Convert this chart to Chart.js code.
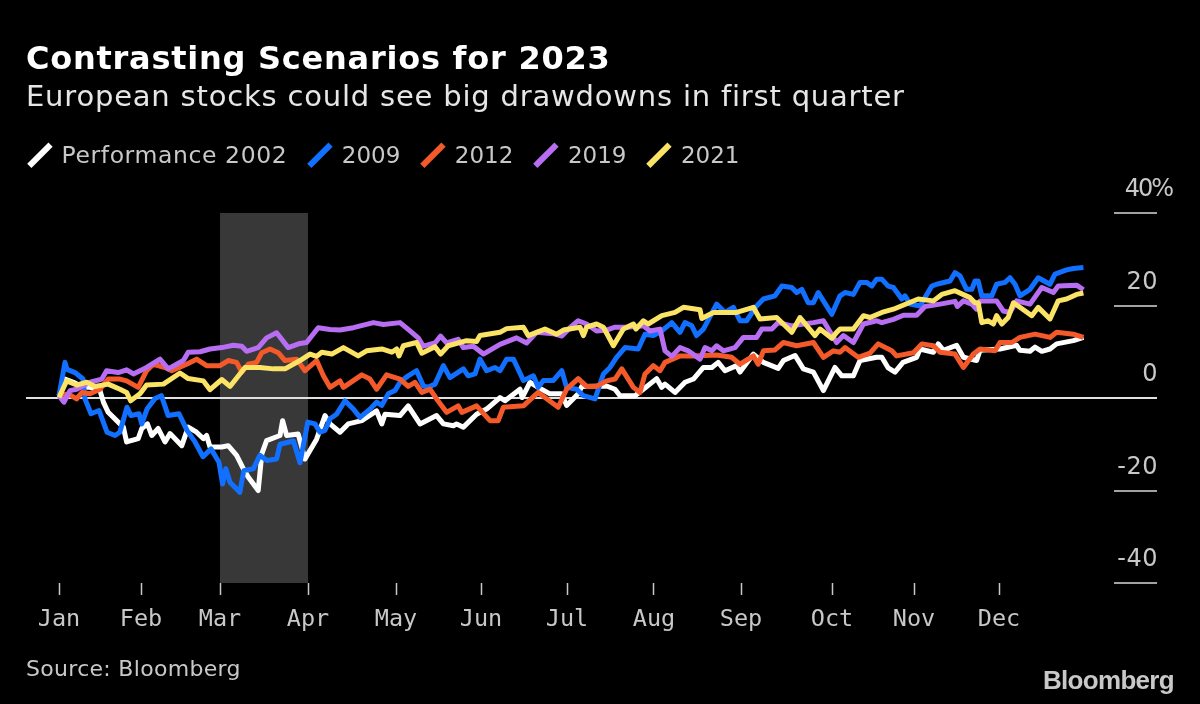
<!DOCTYPE html>
<html>
<head>
<meta charset="utf-8">
<script src="https://cdn.jsdelivr.net/npm/chart.js@4/dist/chart.umd.min.js"></script>
<style>
  html, body { margin: 0; background: #000; }
  #wrap { position: relative; width: 1200px; height: 704px; overflow: hidden; font-family: "DejaVu Sans"; }
  #chart { position: absolute; left: 0; top: 0; }
  .txt { position: absolute; white-space: nowrap; }
  #title { left: 26px; top: 39px; font-size: 32px; font-weight: bold; color: #fff; letter-spacing: 0.75px; }
  #subtitle { left: 26px; top: 79px; font-size: 29px; color: #e6e6e6; letter-spacing: 0.8px; }
  #legend { left: 26px; top: 140px; height: 30px; font-size: 23px; color: #c8c8c8; display: flex; }
  #legend .item { display: flex; align-items: center; margin-right: 19px; }
  #legend .item:first-child span { font-size: 23.5px; letter-spacing: 0.6px; }
  #legend i { display: block; width: 5.5px; height: 30px; margin: 0 19px 0 11px; transform: rotate(45deg); }
  #source { left: 26px; top: 656px; font-size: 22px; color: #c8c8c8; letter-spacing: 0.3px; }
  #logo { left: 1043px; top: 665px; font-family: "Liberation Sans"; font-size: 26px; font-weight: bold; color: #c8c8c8; letter-spacing: -0.7px; }
</style>
</head>
<body>
<div id="wrap">
  <canvas id="chart" width="1200" height="704"></canvas>
  <div class="txt" id="title">Contrasting Scenarios for 2023</div>
  <div class="txt" id="subtitle">European stocks could see big drawdowns in first quarter</div>
  <div class="txt" id="legend"></div>
  <div class="txt" id="source">Source: Bloomberg</div>
  <div class="txt" id="logo">Bloomberg</div>
</div>
<script>
// x is trading days since the start of the year
const monthLabels = ["Jan", "Feb", "Mar", "Apr", "May", "Jun", "Jul", "Aug", "Sep", "Oct", "Nov", "Dec"];
const monthDays = [0, 20.5, 40.25, 62.25, 84.25, 105.5, 127, 148.75, 170.5, 193.25, 213.75, 235];
const highlightDays = [40.25, 62.25];
const yTicks = [-40, -20, 0, 20, 40];
const yLabels = ["-40", "-20", "0", "20", "40%"];

const days2002 = [0,1.5,3.6,6.1,7.75,10.25,11.1,12.3,15.25,16.1,16.9,19.8,20.7,22.1,23.2,24.8,26.5,27.75,30.7,32.3,34.4,36.1,36.9,37.75,40.7,42.3,44.4,46.1,47.3,49.8,50.7,51.9,55.25,55.9,56.9,59.8,61.5,64.4,66.5,67.75,70.25,72.3,75.7,79.4,80.7,81.5,85.25,87.3,90.25,94.4,96.1,98.6,99.4,101.1,104.4,106.9,110.25,111.5,115.25,115.8,117.75,119.8,122.75,125.7,126.9,129.8,130.7,136.9,139,140.25,144,146.1,149.4,150.7,151.5,154,156.5,158.6,161.1,163.2,164.8,166.5,169.4,170.25,173.6,176.1,179.8,181.1,184,186.1,188.6,191.1,194,195.7,198.6,200.25,204.4,205.7,207.3,209,211,214.4,215.25,218.6,219.8,221.1,224.4,226.1,229.4,230.25,235.25,239.4,240.25,242.75,244,245.7,247.75,249.4,253.6,256.1];
const values2002 = [0.5,4.1,3.4,2.3,2.3,1.6,-0.9,-3.1,-5.6,-6.3,-9.5,-8.8,-6.6,-5.6,-8.1,-6.6,-9.5,-7.7,-10.3,-6.3,-7.4,-8.8,-8.1,-10.6,-10.6,-10.3,-12.4,-15.3,-17.1,-20,-12.1,-9.2,-8.1,-4.9,-8.1,-7.8,-13.2,-8.9,-3.8,-5.6,-7.4,-5.6,-4.9,-2.8,-5.6,-3.5,-3.8,-1.7,-5.6,-3.8,-5.6,-6,-5.6,-6.3,-3.5,-2.4,0.1,-0.6,1.9,0.1,3.4,2.3,0.9,0.9,-1.6,0.9,2.5,2.6,1.9,0.5,0.5,1.9,4.2,2.3,3,1.2,3.4,4.1,6.6,6.6,7.7,5.9,7,5.6,9.5,7.7,6.4,8.1,9.2,6.3,5.6,1.6,6.6,4.8,4.8,8.1,8.8,8.8,6.5,5.6,7.7,8.8,10.6,9.9,11.7,10.3,11.4,8.8,8.1,10.3,10.6,11.4,10.3,10.1,11,10.1,10.6,11.7,12.4,13.1];

const days2009 = [0,1.5,2,4,6,6.5,8,10,12,14,15.2,17,18,20,20.7,22,24,25.6,27.3,30,32,34,36,38,40,40.9,41.7,42.75,45.2,46.2,48.6,50.2,52,54.4,55.25,58.6,60.25,62.2,64,65.25,66.5,67.75,69.4,71.5,73.6,75.25,77.75,79.4,80.7,82.3,84,85.25,87.3,89.4,91.1,92.3,94,96.1,97.75,101.1,102.3,104,105.25,106.9,109,110.25,111.9,113.6,116.1,118.6,119.8,121.1,123.6,125.7,126.9,129.4,131.1,134,136.1,137.75,139.4,141.5,144.8,146.5,148.6,150.7,153.2,155.25,156.5,158.2,159.4,161.1,164.4,166.5,168.6,170.25,171.9,174.4,176.1,179,180.7,183.2,184.4,185.7,187.3,188.6,189.8,191.1,193.2,195.25,196.5,198.6,200.25,201.9,203.2,204.4,205.7,207.3,208.6,210.7,211.5,212.75,215.25,218.2,219.4,222.75,224,225.25,226.9,228.2,229,229.8,230.7,233.2,234.4,236.5,237.75,239,240.25,242.75,244.8,247.75,249,251.9,253.6,256.1];
const values2009 = [0.5,7.7,6.2,5.5,4.1,-0.2,-3.4,-2.7,-7.4,-8.1,-7.4,-2,-3.8,-3.4,-5.6,-2.4,-0.1,0.5,-3.8,-3.4,-7,-9.5,-12.7,-11,-13.9,-18.6,-15.3,-18.2,-20.4,-15.7,-15.3,-12.4,-13.5,-13.2,-10,-9.3,-14,-5.2,-5.6,-7.4,-7,-4.5,-3.5,-0.6,-2.4,-4.2,-2.4,-0.9,-1.6,0.9,1.6,3.4,4.8,5.9,2.6,2.3,3,7,4.4,6.3,4.8,5.2,8.4,5.9,6.6,5.9,8.4,8.4,3.8,4.8,2.3,3.8,3.8,5.9,2.3,1.9,0.5,-0.2,5.2,6.6,8.8,10.9,10.6,13.8,13.5,14.5,16.3,14.2,16.3,15.6,13.5,14.9,20.3,18.5,19.6,16.7,16.7,19.9,21.4,22.1,24.2,23.9,22.8,23.5,20.6,20.6,22.8,21,18.1,22.1,22.8,22.4,25,25,24.2,25.7,25.7,24.2,23.9,21.4,22.1,20.3,19.9,24.2,24.6,25.3,27.1,26.4,23.5,23.5,25.3,25.3,22.1,22.1,24.6,25,26,24.6,22.1,23.5,26,24.6,26.8,27.7,28,28.2];

const days2012 = [0,2.3,4.4,5.7,7.75,10.25,12.3,15.25,16.9,19.8,21.9,23.6,26.5,28.2,31.9,34.4,36.9,40.25,42.3,44.4,45.7,47.3,49.4,50.7,52.75,54.8,56.5,59.4,61.5,64.4,66.1,67.75,70.25,71.1,75.7,77.75,79.4,81.9,85.25,87.3,89,90.7,92.75,94.4,96.9,99.8,100.7,104.4,107.75,109.8,111.1,116.1,119.8,124.8,126.9,129.8,131.9,134.4,136.9,139,140.7,143.6,145.25,146.5,148.6,150.25,151.5,155.25,158.6,164.4,168.2,170.25,173.6,174.8,176.1,179,181.1,184.4,188.6,191.1,193.6,195.25,196.5,199.8,202.75,204.8,208.2,209.4,213.6,215.7,218.6,220.25,224,226.1,228.6,230.25,234,235.25,238.2,240.25,244,247.75,249.4,253.6,256.1];
const values2012 = [0.5,0.9,-0.2,1.2,0.9,1.9,4.1,4.1,3.7,2.3,5.9,7.3,6.6,5.9,7.3,8.4,7,7,8.1,7.7,5.6,7.3,7.7,9.8,10.6,9.8,8.1,8.4,5.9,8.1,4.8,2.3,3.7,2.3,5,4.1,1.9,5,4.1,2.5,3.4,1.2,1.9,-0.2,-3.1,-1.7,-3.1,-1.7,-4.9,-4.9,-2,-1.7,1.2,-2,1.9,4.2,2.5,2.5,3.7,4.1,6.3,2.3,1.2,5.2,7,5.9,7.7,9.1,9.1,9.3,8.8,7.3,9.1,7.3,10.2,10.4,12,11.3,12,8.8,10.2,9.9,10.9,8.8,9.7,11.7,10.2,9.1,9.8,11.7,11.3,9.9,9.5,6.6,9.5,10.6,10.2,12,12,13.1,13.8,13.1,14.2,13.8,13.1];

const days2019 = [0,1.25,2.75,4.4,7.75,10.7,11.9,14.8,16.9,18.6,21.9,25.25,27.3,31.1,32.3,35.25,37.75,40.7,43.6,45.7,46.9,49.8,51.9,54.4,57.3,60.25,61.9,64.8,67.75,70.25,73.6,78.6,81.1,85.25,87.75,89.8,91.1,94,95.4,96.9,99.8,101.1,103.6,106.1,110.25,114.4,116.9,119.4,123.6,125.7,127.75,129.8,131.9,134.4,136.9,139,141.9,146.1,147.75,150.25,151.5,153.2,155.25,157.3,160.25,161.5,163.2,164.4,166.1,169,171.1,174.4,175.7,178.2,179.8,183.2,186.1,188.6,191.1,194.4,196.1,198.6,201.1,204.4,205.7,208.6,211.1,214.4,216.5,220.25,224,224.6,226.1,228.2,229.4,230.25,234.4,236.1,237.75,239.4,242.75,245.7,248.6,249.8,254.4,256.1];
const values2019 = [0.5,-0.9,1.6,1.9,3.4,4.1,5.9,5.5,6.1,5.2,6.6,8.4,6.3,8.1,9.9,10,10.6,10.9,11.4,11.2,10.1,10.9,13,14.1,10.9,11.8,12,15.2,14.8,14.7,15.2,16.3,15.9,16.3,14.5,13,11.2,11.9,13.4,11.9,12.7,10.9,11.2,9.5,11.6,13,11.9,14.2,13.9,13.4,15.2,16.7,16,14.5,14.7,15.3,15.3,15.6,14.5,14.9,10.2,9,10.9,10.2,8.4,10.9,10.2,11.3,10.2,10.9,13.1,13.1,14.9,14.9,16.3,15.6,16,16.3,16.7,12,13.5,12,16,16.7,16.3,17,17.9,17.9,19.8,20.3,20.9,19.8,21,20.3,19.2,21,21,18.8,18.5,21,20.3,23.9,22.8,24.2,24.4,23.4];

const days2021 = [0,1.9,4.4,6.9,9,12.3,15.25,16.9,17.9,20.25,21.9,26.1,30.25,32.3,36.1,37.75,40.7,42.75,46.5,50.25,53.6,56.5,60.25,62.75,64.4,65.7,68.2,71.1,74.8,76.9,80.7,83.2,84.4,85,86.1,89.4,90.7,94,95.4,97.3,101.9,104.4,105.25,110.25,111.9,116.1,117.3,119.4,121.5,124.4,126.1,130.25,131.1,131.9,134.4,136.1,138.6,141.1,143.6,144.25,146.1,147.3,150.7,154,156.1,160.25,160.7,163.6,169.4,173.6,175.25,179.4,183.2,185.25,189,190.25,193.2,194.4,195.25,198.6,201.1,202.75,205.7,208.6,214.8,218.6,220.7,224,227.75,229,229.8,230.7,232.3,233.6,234.4,235.7,237.3,238.6,239.8,243.2,244.8,247.75,249.8,251.9,254.4,256.1];
const values2021 = [0.1,3.7,2.8,3.4,2.5,3,1.9,1.2,-0.6,0.9,2.8,3,5.4,4.2,3.7,1.8,4,2.5,6.6,6.6,6.3,6.3,8.1,9.5,9,9.9,9.5,10.9,9.1,10.2,10.6,9.9,10.6,9.1,11.3,12,9.7,11.1,9.5,11.3,12.4,12.2,13.5,14.2,15,15.3,13.5,14.2,14.9,13.8,14.7,15.3,13.5,15.3,16,15.3,11.3,14.9,16,14.9,16.7,16,17.8,18.5,19.6,19.1,17.2,18.5,18.5,19.6,17.1,17.4,14.2,17.4,13.5,14.9,12.9,14.2,14.9,14.9,17.8,17.4,18.5,19.2,21.4,21,22.4,23.2,21.7,20.6,20.6,16.3,16.7,16,17.8,16,17.4,20.6,19.9,17.8,19.6,17.1,21,21.4,22.4,22.7];

const seriesNames = ["Performance 2002", "2009", "2012", "2019", "2021"];
const seriesDays = [days2002, days2009, days2012, days2019, days2021];
const seriesValues = [values2002, values2009, values2012, values2019, values2021];
const seriesColors = ["#ffffff", "#1170ff", "#f4592a", "#b86ef2", "#fbe365"];

// legend
const legendEl = document.getElementById("legend");
seriesNames.forEach((name, i) => {
  const item = document.createElement("div");
  item.className = "item";
  item.innerHTML = `<i style="background:${seriesColors[i]}"></i><span>${name}</span>`;
  legendEl.appendChild(item);
});

// first dataset ends up on top in Chart.js, so yellow goes first
const datasets = seriesNames.map((name, i) => ({
  label: name,
  data: seriesDays[i].map((d, j) => ({ x: d, y: seriesValues[i][j] })),
  borderColor: seriesColors[i],
  borderWidth: 5,
  pointRadius: 0,
  tension: 0,
  borderJoinStyle: "round",
  fill: false,
})).reverse();

const backdrop = {
  id: "backdrop",
  beforeDatasetsDraw(chart) {
    const { ctx, chartArea, scales } = chart;
    const x0 = scales.x.getPixelForValue(highlightDays[0]);
    const x1 = scales.x.getPixelForValue(highlightDays[1]);
    const y0 = Math.round(scales.y.getPixelForValue(0));
    ctx.save();
    ctx.fillStyle = "#383838";
    ctx.fillRect(x0, chartArea.top, x1 - x0, chartArea.bottom - chartArea.top);
    ctx.strokeStyle = "#e0e0e0";
    ctx.lineWidth = 1.8;
    ctx.beginPath();
    ctx.moveTo(chartArea.left, y0);
    ctx.lineTo(chartArea.right, y0);
    ctx.stroke();
    ctx.restore();
  },
  afterDatasetsDraw(chart) {
    // short rules on the right with the label sitting above them
    const { ctx, chartArea, scales } = chart;
    ctx.save();
    ctx.strokeStyle = "#d8d8d8";
    ctx.lineWidth = 1.6;
    ctx.fillStyle = "#c8c8c8";
    ctx.font = '24px "DejaVu Sans"';
    ctx.textAlign = "right";
    yTicks.forEach((v, i) => {
      const y = Math.round(scales.y.getPixelForValue(v));
      if (v !== 0) {
        ctx.beginPath();
        ctx.moveTo(chartArea.right - 43, y);
        ctx.lineTo(chartArea.right, y);
        ctx.stroke();
      }
      const isTop = v === 40;
      ctx.letterSpacing = isTop ? "-2px" : "0.5px";
      ctx.fillText(yLabels[i], chartArea.right + (isTop ? 15 : 1), y - 17);
    });
    ctx.restore();
    ctx.letterSpacing = "0px";
  },
};

new Chart(document.getElementById("chart"), {
  type: "line",
  data: { datasets },
  options: {
    responsive: false,
    animation: false,
    events: [],
    layout: { padding: { left: 26, right: 43, top: 213, bottom: 0 } },
    plugins: { legend: { display: false }, tooltip: { enabled: false } },
    scales: {
      x: {
        type: "linear",
        min: -8.25,
        max: 274.5,
        afterBuildTicks: (scale) => { scale.ticks = monthDays.map((value) => ({ value })); },
        afterFit: (scale) => { scale.height = 121; },
        border: { display: false },
        grid: { drawOnChartArea: false, drawTicks: true, tickLength: 12, tickWidth: 1.5, tickColor: "#c8c8c8" },
        ticks: {
          autoSkip: false,
          maxRotation: 0,
          padding: 11,
          color: "#c8c8c8",
          font: { family: "DejaVu Sans Mono", size: 23.5 },
          callback: (value, i) => monthLabels[i],
        },
      },
      y: {
        position: "right",
        min: -40,
        max: 40,
        afterBuildTicks: (scale) => { scale.ticks = yTicks.map((value) => ({ value })); },
        afterFit: (scale) => { scale.width = 0; },
        border: { display: false },
        grid: { display: false },
        ticks: { display: false },
      },
    },
  },
  plugins: [backdrop],
});
</script>
</body>
</html>
